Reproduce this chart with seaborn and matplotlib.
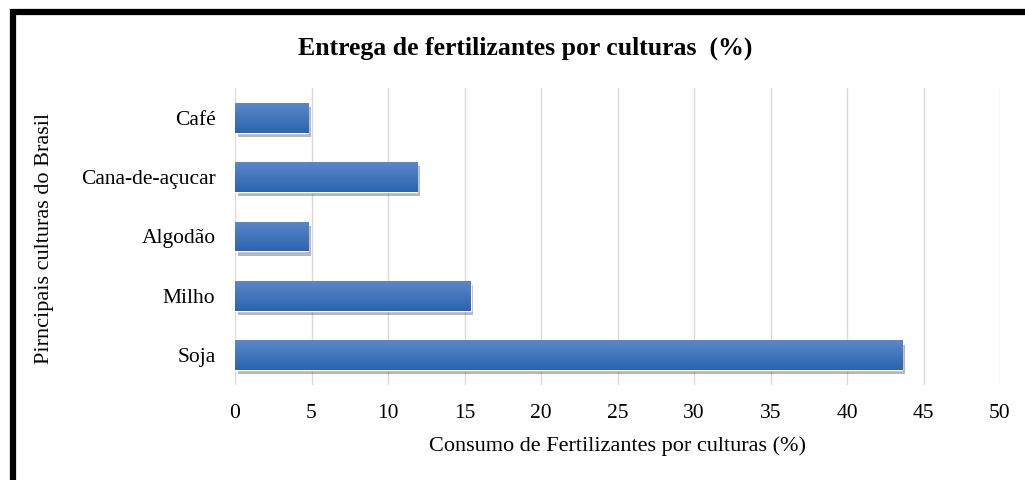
import numpy as np
import pandas as pd
import seaborn as sns
import matplotlib.pyplot as plt
import matplotlib.patheffects as pe
from matplotlib.patches import Rectangle

culturas = ["Café", "Cana-de-açucar", "Algodão", "Milho", "Soja"]
consumo = [4.8, 11.9, 4.8, 15.4, 43.6]

sns.set_style("white")
plt.rcParams['font.family'] = ['Liberation Serif', 'DejaVu Serif']
plt.rcParams['text.color'] = 'black'

data = pd.DataFrame({"cultura": culturas, "consumo": consumo})

fig = plt.figure(figsize=(10.25, 4.8), dpi=100)
ax = fig.add_axes([235 / 1025, 1 - 385 / 480, 765 / 1025, 297 / 480])

sns.barplot(data=data, x="consumo", y="cultura", color="#3d6fb6", width=0.5, ax=ax, zorder=3)

# gradient + shadow on each bar (Excel style)
grad = np.linspace(0, 1, 64).reshape(-1, 1)
cmap = sns.blend_palette(["#5b87c9", "#2c64ae"], as_cmap=True)
for p in ax.patches:
    p.set_path_effects([pe.SimplePatchShadow(offset=(2, -3), alpha=0.35, shadow_rgbFace="#333333"), pe.Normal()])
    x0, y0 = p.get_x(), p.get_y()
    w, h = p.get_width(), p.get_height()
    im = ax.imshow(grad, cmap=cmap, aspect="auto", extent=[x0, x0 + w, y0 + h, y0], zorder=4)
    im.set_clip_path(p)

ax.set_xlim(0, 50)
ax.set_ylim(4.5, -0.5)
ax.set_xticks(range(0, 51, 5))
ax.grid(axis="x", color="#d9d9d9", lw=1, zorder=0)
ax.grid(axis="y", visible=False)
sns.despine(ax=ax, left=True, bottom=True)
ax.tick_params(axis="both", length=0, labelsize=15.5, colors="black")
ax.tick_params(axis="y", pad=14)
ax.tick_params(axis="x", pad=14)

ax.set_xlabel("Consumo de Fertilizantes por culturas (%)", fontsize=16, labelpad=9, color="black")
ax.set_ylabel("")
fig.text(45 / 1025, 1 - 238 / 480, "Pirncipais culturas do Brasil", rotation=90,
         ha="center", va="center", fontsize=16)
fig.text(525 / 1025, 1 - 48 / 480, "Entrega de fertilizantes por culturas  (%)",
         ha="center", va="center", fontsize=18.5, fontweight="bold")

# black frame (top and left edges visible)
fig.add_artist(Rectangle((12.5 / 1025, -0.2), 1.2, 1.2 - 12 / 480, transform=fig.transFigure,
                         fill=False, edgecolor="black", lw=4.5))

fig.savefig("out.png", dpi=100)
